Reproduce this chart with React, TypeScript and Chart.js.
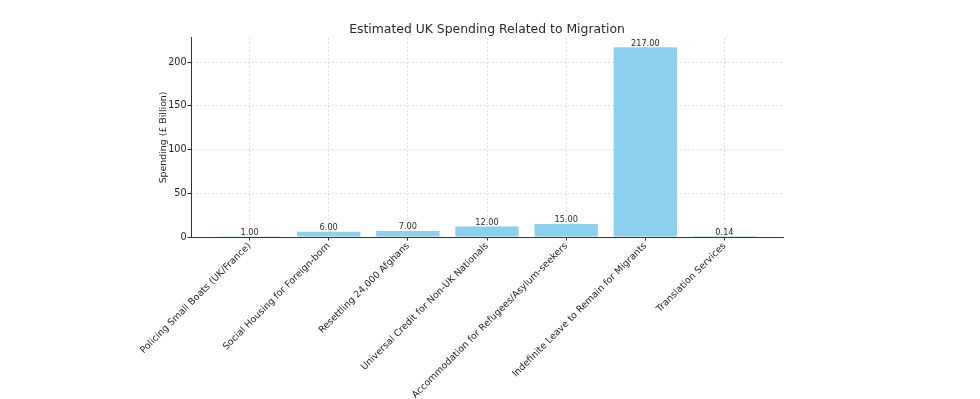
import React, { useEffect, useRef } from "react";
import { Chart, registerables } from "chart.js";

Chart.register(...registerables);

const categories = [
  "Policing Small Boats (UK/France)",
  "Social Housing for Foreign-born",
  "Resettling 24,000 Afghans",
  "Universal Credit for Non-UK Nationals",
  "Accommodation for Refugees/Asylum-seekers",
  "Indefinite Leave to Remain for Migrants",
  "Translation Services",
];
const spending = [1.0, 6.0, 7.0, 12.0, 15.0, 217.0, 0.14];
const yTickValues = [0, 50, 100, 150, 200];
const yMax = 227.85;
const xMin = -0.74;
const xMax = 6.74;

const FONT = "'DejaVu Sans', sans-serif";

const valueLabels = {
  id: "valueLabels",
  afterDatasetsDraw(chart: any) {
    const ctx = chart.ctx;
    const meta = chart.getDatasetMeta(0);
    ctx.save();
    ctx.font = `8.2px ${FONT}`;
    ctx.fillStyle = "#2a2a2a";
    ctx.textAlign = "center";
    ctx.textBaseline = "alphabetic";
    meta.data.forEach((bar: any, i: number) => {
      ctx.fillText(spending[i].toFixed(2), bar.x, bar.y - 1.5);
    });
    ctx.restore();
  },
};

export default function App() {
  const ref = useRef<HTMLCanvasElement | null>(null);

  useEffect(() => {
    if (!ref.current) return;
    const chart = new Chart(ref.current, {
      type: "bar",
      data: {
        datasets: [
          {
            label: "Spending",
            data: spending.map((v, i) => ({ x: i, y: v })),
            backgroundColor: "rgba(135,206,235,0.97)",
            borderWidth: 0,
            barPercentage: 0.8,
            categoryPercentage: 1.0,
          },
        ],
      },
      options: {
        responsive: false,
        animation: false,
        devicePixelRatio: 1,
        layout: { padding: { left: 131, right: 197, top: 0, bottom: 0 } },
        plugins: {
          legend: { display: false },
          tooltip: { enabled: false },
          title: {
            display: true,
            text: "Estimated UK Spending Related to Migration",
            color: "#2a2a2a",
            font: { family: FONT, size: 12.4, weight: "normal" },
            padding: { top: 22, bottom: 1 },
            fullSize: false,
          },
        },
        scales: {
          x: {
            type: "linear",
            min: xMin,
            max: xMax,
            offset: false,
            z: 1,
            afterBuildTicks: (scale: any) => {
              scale.ticks = categories.map((_, i) => ({ value: i }));
            },
            afterFit: (scale: any) => {
              scale.height = 162;
            },
            ticks: {
              autoSkip: false,
              minRotation: 45,
              maxRotation: 45,
              padding: 0,
              color: "#1e1e1e",
              font: { family: FONT, size: 9.4 },
              callback: (v: any) => categories[Math.round(Number(v))] ?? "",
            },
            grid: {
              offset: false,
              color: "rgba(200,200,200,0.6)",
              tickColor: "#333333",
              tickLength: 3.5,
              drawTicks: true,
            },
            border: { display: true, color: "#333333", width: 1, dash: [2, 2] },
          },
          y: {
            type: "linear",
            min: 0,
            max: yMax,
            afterBuildTicks: (scale: any) => {
              scale.ticks = yTickValues.map((v) => ({ value: v }));
            },
            afterFit: (scale: any) => {
              scale.width = 60;
            },
            ticks: {
              padding: 1,
              color: "#1e1e1e",
              font: { family: FONT, size: 9.6 },
              callback: (v: any) => String(v),
            },
            grid: {
              color: "rgba(200,200,200,0.6)",
              tickColor: "#333333",
              tickLength: 3.5,
            },
            border: { display: true, color: "#333333", width: 1, dash: [2, 2] },
            title: {
              display: true,
              text: "Spending (£ Billion)",
              color: "#1e1e1e",
              font: { family: FONT, size: 9.4 },
              padding: { top: 27, bottom: 0 },
            },
          },
        },
      },
      plugins: [valueLabels],
    } as any);
    return () => chart.destroy();
  }, []);

  return (
    <div style={{ position: "fixed", left: 0, top: 0, width: 980, height: 399, background: "#ffffff" }}>
      <canvas ref={ref} width={980} height={399} style={{ display: "block" }} />
    </div>
  );
}
